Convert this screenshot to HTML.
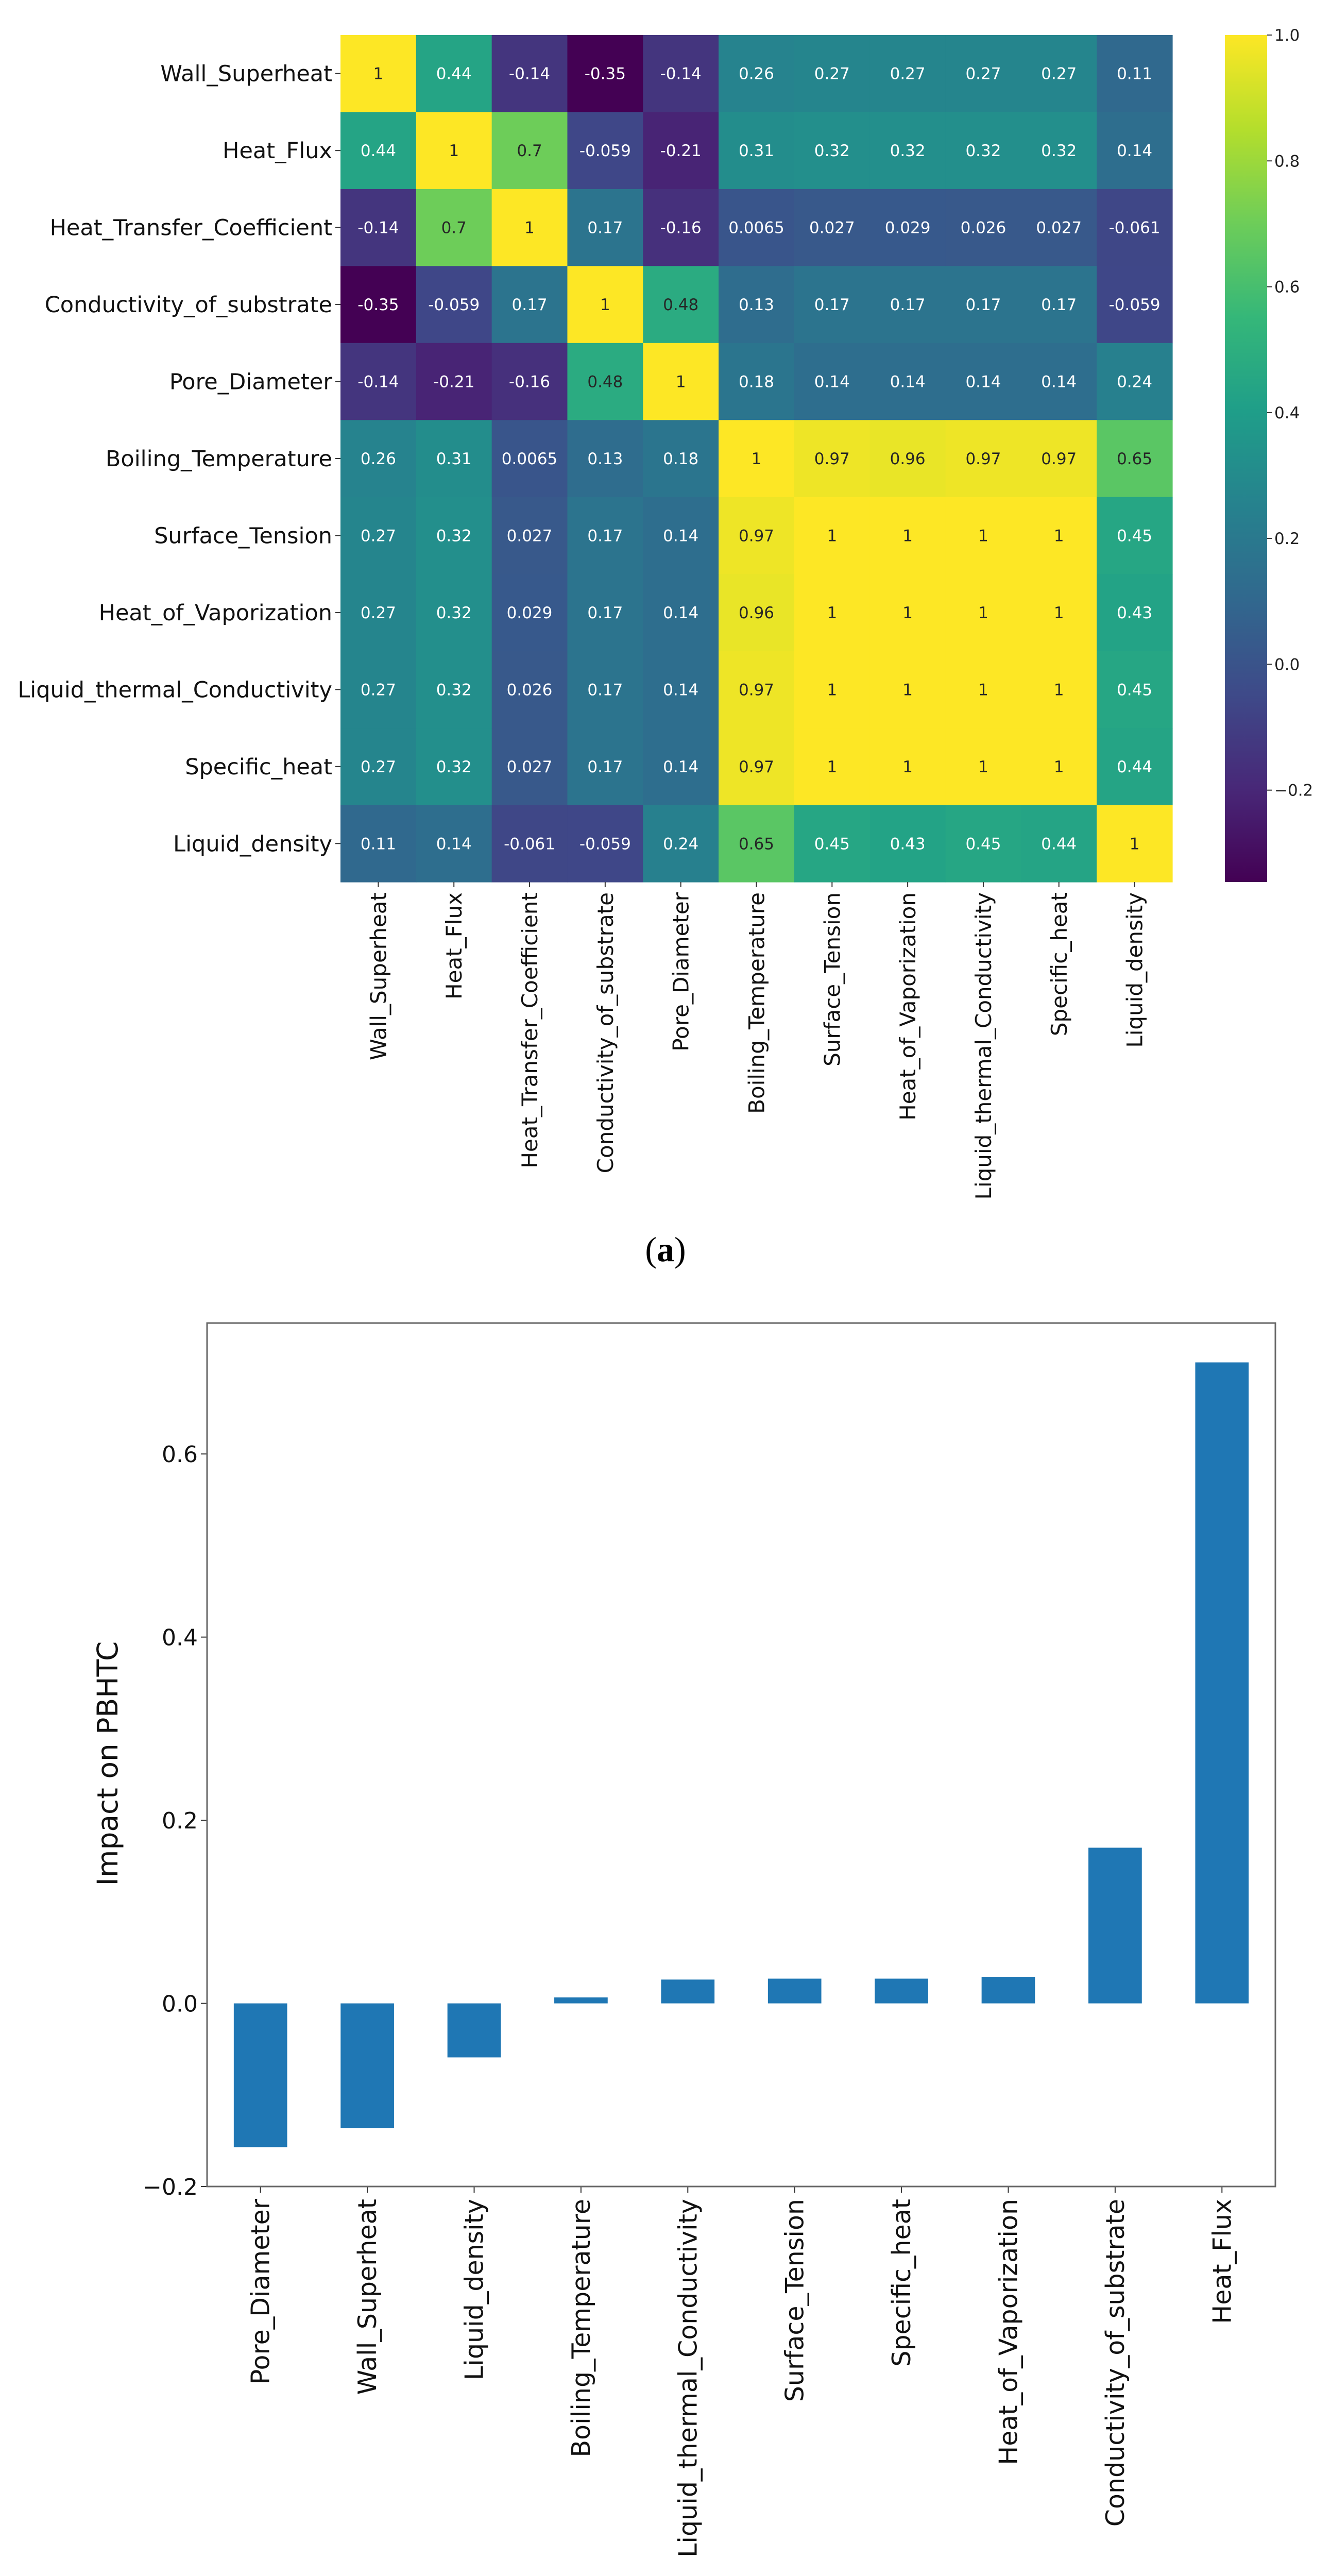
<!DOCTYPE html>
<html><head><meta charset="utf-8"><style>
html,body{margin:0;padding:0;background:#fff;width:2584px;height:5125px;overflow:hidden}
svg{display:block}
text{font-family:"DejaVu Sans","Liberation Sans",sans-serif}
</style></head><body>
<svg id="fig" width="2584" height="5125" viewBox="0 0 2584 5125" xmlns="http://www.w3.org/2000/svg">
<g id="hm"></g>
<g id="cb"></g>
<text x="1292" y="2448" text-anchor="middle" font-size="68" style="font-family:'Liberation Serif',serif">(<tspan font-weight="bold">a</tspan>)</text>
<g id="bc"></g>
<text x="1292" y="5068" text-anchor="middle" font-size="68" style="font-family:'Liberation Serif',serif">(<tspan font-weight="bold">b</tspan>)</text>
</svg>
<script>
const hmLabels=["Wall_Superheat","Heat_Flux","Heat_Transfer_Coefficient","Conductivity_of_substrate","Pore_Diameter","Boiling_Temperature","Surface_Tension","Heat_of_Vaporization","Liquid_thermal_Conductivity","Specific_heat","Liquid_density"];
const corr=[
[1,0.44,-0.14,-0.35,-0.14,0.26,0.27,0.27,0.27,0.27,0.11],
[0.44,1,0.7,-0.059,-0.21,0.31,0.32,0.32,0.32,0.32,0.14],
[-0.14,0.7,1,0.17,-0.16,0.0065,0.027,0.029,0.026,0.027,-0.061],
[-0.35,-0.059,0.17,1,0.48,0.13,0.17,0.17,0.17,0.17,-0.059],
[-0.14,-0.21,-0.16,0.48,1,0.18,0.14,0.14,0.14,0.14,0.24],
[0.26,0.31,0.0065,0.13,0.18,1,0.97,0.96,0.97,0.97,0.65],
[0.27,0.32,0.027,0.17,0.14,0.97,1,1,1,1,0.45],
[0.27,0.32,0.029,0.17,0.14,0.96,1,1,1,1,0.43],
[0.27,0.32,0.026,0.17,0.14,0.97,1,1,1,1,0.45],
[0.27,0.32,0.027,0.17,0.14,0.97,1,1,1,1,0.44],
[0.11,0.14,-0.061,-0.059,0.24,0.65,0.45,0.43,0.45,0.44,1]];
const cbTicks=[1.0,0.8,0.6,0.4,0.2,0.0,-0.2];
const cbTickLabels=["1.0","0.8","0.6","0.4","0.2","0.0","\u22120.2"];
const barCats=["Pore_Diameter","Wall_Superheat","Liquid_density","Boiling_Temperature","Liquid_thermal_Conductivity","Surface_Tension","Specific_heat","Heat_of_Vaporization","Conductivity_of_substrate","Heat_Flux"];
const barVals=[-0.157,-0.136,-0.059,0.0065,0.026,0.027,0.027,0.029,0.17,0.70];
const yTicks=[-0.2,0.0,0.2,0.4,0.6];
const yTickLabels=["\u22120.2","0.0","0.2","0.4","0.6"];

const NS="http://www.w3.org/2000/svg";
function mk(tag,attrs,parent,txt){const e=document.createElementNS(NS,tag);for(const k in attrs)e.setAttribute(k,attrs[k]);if(txt!==undefined)e.textContent=txt;parent.appendChild(e);return e;}
const vir=[[68,1,84],[72,40,120],[62,74,137],[49,104,142],[38,130,142],[31,158,137],[53,183,121],[109,205,89],[180,222,44],[253,231,37]];
function viridis(t){t=Math.max(0,Math.min(1,t));const p=t*(vir.length-1);const i=Math.min(vir.length-2,Math.floor(p));const f=p-i;const c=vir[i].map((v,k)=>Math.round(v+(vir[i+1][k]-v)*f));return `rgb(${c[0]},${c[1]},${c[2]})`;}
const vmin=-0.346,vmax=1.0;
// heatmap
const hm=document.getElementById('hm');
const X0=661,X1=2276,Y0=68,Y1=1712;
const n=hmLabels.length,cw=(X1-X0)/n,ch=(Y1-Y0)/n;
const cx=i=>X0+cw*i, cy=j=>Y0+ch*j;
for(let r=0;r<n;r++)for(let c=0;c<n;c++){
 const v=corr[r][c];const t=(v-vmin)/(vmax-vmin);
 const rc=mk('rect',{x:cx(c),y:cy(r),width:cw+0.6,height:ch+0.6,fill:viridis(t)},hm);
 
 
 const tx=mk('text',{x:cx(c)+cw/2,y:cy(r)+ch/2+11,'text-anchor':'middle','font-size':31,fill:t>0.6?'#262626':'#ffffff'},hm,String(v));
 
 
}
for(let i=0;i<n;i++){
 mk('line',{x1:X0-10,x2:X0,y1:cy(i)+ch/2,y2:cy(i)+ch/2,stroke:'#333','stroke-width':2},hm);
 const rl=mk('text',{x:X0-16,y:cy(i)+ch/2+15,'text-anchor':'end','font-size':43,fill:'#111'},hm,hmLabels[i]);
 
 
 mk('line',{x1:cx(i)+cw/2,x2:cx(i)+cw/2,y1:Y1,y2:Y1+10,stroke:'#333','stroke-width':2},hm);
 const px=cx(i)+cw/2+15,py=Y1+20;
 const cl=mk('text',{x:px,y:py,'text-anchor':'end','font-size':42,fill:'#111',transform:`rotate(-90 ${px} ${py})`},hm,hmLabels[i]);
 
 
}
// colorbar
const cb=document.getElementById('cb');
const CX0=2378,CX1=2460;
const cbY=v=>Y0+(vmax-v)/(vmax-vmin)*(Y1-Y0);
const defs=mk('defs',{},cb);
const lg=mk('linearGradient',{id:'vg',x1:0,y1:1,x2:0,y2:0},defs);
for(let i=0;i<vir.length;i++)mk('stop',{offset:i/(vir.length-1),'stop-color':`rgb(${vir[i].join(',')})`},lg);
mk('rect',{x:CX0,y:Y0,width:CX1-CX0,height:Y1-Y0,fill:'url(#vg)'},cb);
cbTicks.forEach((v,i)=>{const y=cbY(v);
 mk('line',{x1:CX1,x2:CX1+9,y1:y,y2:y,stroke:'#333','stroke-width':2},cb);
 const t=mk('text',{x:CX1+14,y:y+11,'font-size':31,fill:'#222'},cb,cbTickLabels[i]);
 
 
});
// bar chart
const bc=document.getElementById('bc');
const BX0=402,BX1=2476,BY0=2568,BY1=4244,ymin=-0.2,ymax=0.743;
const yS=v=>BY1-(v-ymin)/(ymax-ymin)*(BY1-BY0);
const step=(BX1-BX0)/barCats.length;
const xS=i=>BX0+step*(i+0.5);
barVals.forEach((v,i)=>{
 const y0=yS(0),y=yS(v);
 const b=mk('rect',{x:xS(i)-step*0.25,y:Math.min(y0,y),width:step*0.5,height:Math.abs(y-y0),fill:'#1f77b4'},bc);
 
 
 mk('line',{x1:xS(i),x2:xS(i),y1:BY1,y2:BY1+12,stroke:'#333','stroke-width':2},bc);
 const px=xS(i)+17,py=BY1+24;
 const l=mk('text',{x:px,y:py,'text-anchor':'end','font-size':49,fill:'#111',transform:`rotate(-90 ${px} ${py})`},bc,barCats[i]);
 
 
});
yTicks.forEach((v,i)=>{const y=yS(v);
 mk('line',{x1:BX0-12,x2:BX0,y1:y,y2:y,stroke:'#333','stroke-width':2},bc);
 const t=mk('text',{x:BX0-18,y:y+16,'text-anchor':'end','font-size':44,fill:'#111'},bc,yTickLabels[i]);
 
 
});
mk('rect',{x:BX0,y:BY0,width:BX1-BX0,height:BY1-BY0,fill:'none',stroke:'#666','stroke-width':3},bc);
const ly=3423;
const yl=mk('text',{x:228,y:ly,'text-anchor':'middle','font-size':55,fill:'#111',transform:`rotate(-90 228 ${ly})`},bc,'Impact on PBHTC');


</script>
</body></html>
